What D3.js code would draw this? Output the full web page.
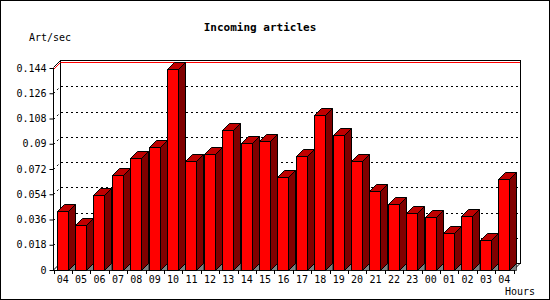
<!DOCTYPE html>
<html>
<head>
<meta charset="utf-8">
<script src="https://cdn.jsdelivr.net/npm/d3@7"></script>
<style>
  body { margin: 0; background: #fff; }
  svg text { font-family: "DejaVu Sans Mono", monospace; fill: #000; }
</style>
</head>
<body>
<div id="chart"></div>
<script>
// hours shown under the bars (last 24h, so "04" appears twice)
var hours = ["04", "05", "06", "07", "08", "09", "10", "11", "12", "13", "14", "15", "16",
             "17", "18", "19", "20", "21", "22", "23", "00", "01", "02", "03", "04"];
// articles per second for each hour
var artPerSec = [0.0421, 0.0321, 0.0532, 0.0677, 0.0798, 0.0875, 0.1431, 0.0777, 0.0825,
                 0.0998, 0.0903, 0.0920, 0.0663, 0.0813, 0.1103, 0.0962, 0.0777, 0.0563,
                 0.0470, 0.0404, 0.0376, 0.0261, 0.0385, 0.0211, 0.0646];
var yTicks = [0, 0.018, 0.036, 0.054, 0.072, 0.09, 0.108, 0.126, 0.144];
var yLabels = ["0", "0.018", "0.036", "0.054", "0.072", "0.09", "0.108", "0.126", "0.144"];

var width = 550, height = 300;
var depth = 7; // 3d offset (right and up)

var svg = d3.select("#chart").append("svg")
    .attr("width", width)
    .attr("height", height);

// frame
svg.append("rect")
    .attr("x", 0.5).attr("y", 0.5)
    .attr("width", width - 1).attr("height", height - 1)
    .attr("fill", "#fff").attr("stroke", "#000");

svg.append("text")
    .attr("x", 260).attr("y", 31)
    .attr("text-anchor", "middle")
    .style("font-size", "11px").style("font-weight", "bold")
    .text("Incoming articles");

svg.append("text")
    .attr("x", 29).attr("y", 41)
    .style("font-size", "10px")
    .text("Art/sec");

svg.append("text")
    .attr("x", 505).attr("y", 295)
    .style("font-size", "10px")
    .text("Hours");

var x = d3.scaleBand()
    .domain(d3.range(hours.length))
    .range([53.5, 513.5]);

var y = d3.scaleLinear()
    .domain([0, 0.144])
    .range([270, 68]);

var x0 = 53.5, x1 = 513.5, y0 = y(0), yTop = y(0.144);

var g = svg.append("g");

// back wall dotted grid: short diagonal from the front axis, then along the wall
var gridVals = yTicks.slice(1, -1);
g.selectAll(".gdiag")
    .data(gridVals)
    .enter().append("path")
    .attr("class", "gdiag")
    .attr("d", d => "M" + x0 + "," + (Math.round(y(d)) + 0.5) + "L" + (x0 + depth) + "," + (Math.round(y(d)) - depth + 0.5))
    .attr("fill", "none").attr("stroke", "#000")
    .attr("stroke-dasharray", "2,3");
g.selectAll(".grid")
    .data(gridVals)
    .enter().append("path")
    .attr("class", "grid")
    .attr("d", d => "M" + (x0 + depth) + "," + (Math.round(y(d)) - depth + 0.5) + "H" + (x1 + depth))
    .attr("fill", "none").attr("stroke", "#000")
    .attr("stroke-dasharray", "2,3")
    .attr("shape-rendering", "crispEdges");

// back wall frame
g.append("path")
    .attr("d", "M" + (x0 + depth) + "," + (y0 - depth) + "V" + (yTop - depth - 0.5) + "H" + (x1 + depth) +
        "V" + (y0 - depth) + "H" + (x0 + depth))
    .attr("fill", "none").attr("stroke", "#000")
    .attr("shape-rendering", "crispEdges");

// max value line in red
var maxY = Math.round(y(d3.max(artPerSec))) + 0.5;
g.append("path")
    .attr("d", "M" + x0 + "," + maxY + "L" + (x0 + depth) + "," + (maxY - depth))
    .attr("fill", "none").attr("stroke", "#ff0000");
g.append("path")
    .attr("d", "M" + (x0 + depth) + "," + (maxY - depth) + "H" + (x1 + depth - 1))
    .attr("fill", "none").attr("stroke", "#ff0000")
    .attr("shape-rendering", "crispEdges");

// front axes and depth edges
g.append("path")
    .attr("d", "M" + x0 + "," + (yTop - 0.5) + "L" + (x0 + depth) + "," + (yTop - depth - 0.5) +
        "M" + x0 + "," + y0 + "L" + (x0 + depth) + "," + (y0 - depth) +
        "M" + x1 + "," + y0 + "L" + (x1 + depth) + "," + (y0 - depth))
    .attr("fill", "none").attr("stroke", "#000");
g.append("path")
    .attr("d", "M" + x0 + "," + (yTop - 0.5) + "V" + y0 + "H" + x1)
    .attr("fill", "none").attr("stroke", "#000")
    .attr("shape-rendering", "crispEdges");

// bars
var bw = 11;
var bars = svg.selectAll(".bar")
    .data(artPerSec)
    .enter().append("g")
    .attr("class", "bar");

function bx(i) { return Math.round(x(i) + 3) + 0.5; }
function by(d) { return Math.round(y(d)) + 0.5; }

// floor shadow under the side face
bars.append("path")
    .attr("d", (d, i) => "M" + (bx(i) + bw) + "," + (y0 + 0.5) + "L" + (bx(i) + bw + depth) + "," + (y0 - depth + 0.5) +
        "V" + (y0 + 0.5) + "Z")
    .attr("fill", "#808080").attr("stroke", "#000").attr("stroke-width", 0.6);

// side face
bars.append("path")
    .attr("d", (d, i) => "M" + (bx(i) + bw) + "," + by(d) + "L" + (bx(i) + bw + depth) + "," + (by(d) - depth) +
        "V" + (y0 - depth + 0.5) + "L" + (bx(i) + bw) + "," + (y0 + 0.5) + "Z")
    .attr("fill", "#800000").attr("stroke", "#000");

// top face
bars.append("path")
    .attr("d", (d, i) => "M" + bx(i) + "," + by(d) + "L" + (bx(i) + depth) + "," + (by(d) - depth) +
        "H" + (bx(i) + bw + depth) + "L" + (bx(i) + bw) + "," + by(d) + "Z")
    .attr("fill", "#c00000").attr("stroke", "#000");

// front face
bars.append("rect")
    .attr("x", (d, i) => bx(i))
    .attr("y", d => by(d))
    .attr("width", bw)
    .attr("height", d => y0 + 0.5 - by(d))
    .attr("fill", "#ff0000").attr("stroke", "#000");

// y axis
var yAxis = svg.append("g")
    .attr("transform", "translate(" + x0 + ",0)")
    .call(d3.axisLeft(y).tickValues(yTicks).tickFormat((d, i) => yLabels[i]).tickSize(4).tickPadding(3));
yAxis.select(".domain").remove();
yAxis.selectAll("text").style("font-size", "10px").style("font-family", "DejaVu Sans Mono, monospace");

// x axis: labels centred in each hour, ticks at the hour boundaries
var xAxis = svg.append("g")
    .attr("transform", "translate(0," + y0 + ")")
    .call(d3.axisBottom(x).tickFormat(i => hours[i]).tickSize(0).tickPadding(6));
xAxis.select(".domain").remove();
xAxis.selectAll("text").style("font-size", "10px").style("font-family", "DejaVu Sans Mono, monospace");

svg.append("g").selectAll("line")
    .data(d3.range(hours.length + 1))
    .enter().append("line")
    .attr("x1", i => Math.round(x0 + i * x.step()) + 0.5)
    .attr("x2", i => Math.round(x0 + i * x.step()) + 0.5)
    .attr("y1", y0).attr("y2", y0 + 4)
    .attr("stroke", "#000")
    .attr("shape-rendering", "crispEdges");
</script>
</body>
</html>
